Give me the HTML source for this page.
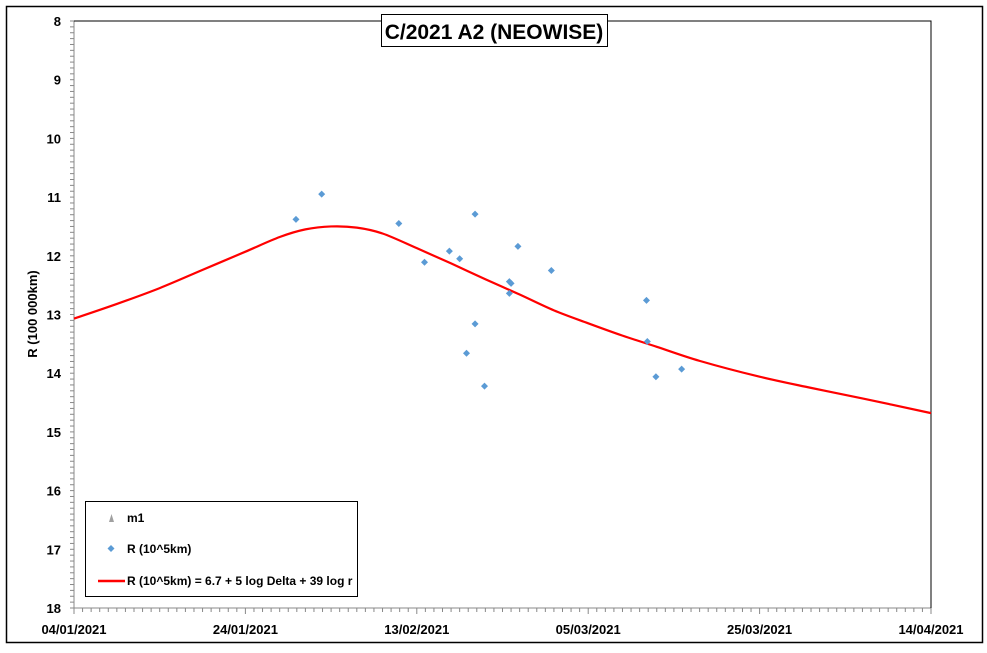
<!DOCTYPE html>
<html><head><meta charset="utf-8"><style>
html,body{margin:0;padding:0;background:#fff;}
svg text{font-family:"Liberation Sans",Arial,sans-serif;}
</style></head><body>
<svg width="987" height="648" xmlns="http://www.w3.org/2000/svg">
<rect x="6.5" y="6.5" width="976" height="636" fill="#fff" stroke="#000" stroke-width="1.5"/>
<g id="plot"></g>
<g>
<rect x="381.5" y="14.5" width="226" height="32" fill="#fff" stroke="#000"/>
<text x="494" y="39" text-anchor="middle" font-size="21" font-weight="bold">C/2021 A2 (NEOWISE)</text>
</g>
<text transform="translate(37,314) rotate(-90)" text-anchor="middle" font-size="13" font-weight="bold">R (100 000km)</text>
<g>
<rect x="85.5" y="501.5" width="272" height="95" fill="#fff" stroke="#000"/>
<polygon points="107,522 112,522 109.5,514" fill="#a0a0a0" transform="translate(2,0)"/>
<text x="127" y="522" font-size="12" font-weight="bold">m1</text>
<polygon points="111,545 114.5,548.5 111,552 107.5,548.5" fill="#5b9bd5"/>
<text x="127" y="553" font-size="12" font-weight="bold">R (10^5km)</text>
<line x1="98" y1="581" x2="125" y2="581" stroke="#f00" stroke-width="2.5"/>
<text x="127" y="585" font-size="12" font-weight="bold">R (10^5km) = 6.7 + 5 log Delta + 39 log r</text>
</g>
</svg>
<script>
const yTicks=[8,9,10,11,12,13,14,15,16,17,18];
const xTickLabels=["04/01/2021","24/01/2021","13/02/2021","05/03/2021","25/03/2021","14/04/2021"];
const obsDays=[25.9,28.9,37.9,40.9,43.8,45.0,46.8,46.8,45.8,47.9,50.8,51.0,50.8,51.8,55.7,66.8,66.9,67.9,70.9];
const obsR=[11.38,10.95,11.45,12.11,11.92,12.05,11.29,13.16,13.66,14.22,12.44,12.47,12.64,11.84,12.25,12.76,13.46,14.06,13.93];
const fitDays=[0,5,10,15,20,24,27,30,33,36,40,44,48,52,56,60,64,68,73,80,86,92,100];
const fitR=[13.07,12.82,12.55,12.24,11.93,11.68,11.55,11.50,11.52,11.62,11.87,12.13,12.40,12.66,12.93,13.15,13.36,13.55,13.79,14.06,14.25,14.43,14.68];
const X0=74,X1=931,Y0=21,Y1=608;
const xs=d=>X0+(X1-X0)*d/100;
const ys=v=>Y0+(Y1-Y0)*(v-8)/10;
const NS="http://www.w3.org/2000/svg";
const plot=document.getElementById('plot');
function mk(t,a,p){const e=document.createElementNS(NS,t);for(const k in a)e.setAttribute(k,a[k]);(p||plot).appendChild(e);return e;}
// axes
let ax=mk('line',{x1:X0,y1:Y0,x2:X0,y2:Y1,stroke:'#888'});


let bx=mk('line',{x1:X0,y1:Y1,x2:X1,y2:Y1,stroke:'#888'});


mk('polyline',{points:`${X0},${Y0} ${X1},${Y0} ${X1},${Y1}`,fill:'none',stroke:'#000'});
for(let v=8;v<=18.001;v+=0.1){const y=ys(v);mk('line',{x1:X0-4,y1:y,x2:X0,y2:y,stroke:'#888'});}
yTicks.forEach(v=>{const t=mk('text',{x:61,y:ys(v)+5,'text-anchor':'end','font-size':13,'font-weight':'bold'});t.textContent=v;

});
for(let d=0;d<=100;d++){mk('line',{x1:xs(d),y1:Y1,x2:xs(d),y2:Y1+(d%20==0?6:4),stroke:'#888'});}
xTickLabels.forEach((s,i)=>{const t=mk('text',{x:xs(i*20),y:Y1+26,'text-anchor':'middle','font-size':13,'font-weight':'bold'});t.textContent=s;

});
// fit curve (catmull-rom)
const P=fitDays.map((d,i)=>[xs(d),ys(fitR[i])]);
let dstr=`M${P[0][0]},${P[0][1]}`;
for(let i=0;i<P.length-1;i++){const p0=P[Math.max(0,i-1)],p1=P[i],p2=P[i+1],p3=P[Math.min(P.length-1,i+2)];
dstr+=` C${p1[0]+(p2[0]-p0[0])/6},${p1[1]+(p2[1]-p0[1])/6} ${p2[0]-(p3[0]-p1[0])/6},${p2[1]-(p3[1]-p1[1])/6} ${p2[0]},${p2[1]}`;}
const c=mk('path',{d:dstr,fill:'none',stroke:'#f00','stroke-width':2.2});


obsDays.forEach((d,i)=>{const x=xs(d),y=ys(obsR[i]);
const m=mk('polygon',{points:`${x},${y-3.5} ${x+3.5},${y} ${x},${y+3.5} ${x-3.5},${y}`,fill:'#5b9bd5'});

});
</script>
</body></html>
